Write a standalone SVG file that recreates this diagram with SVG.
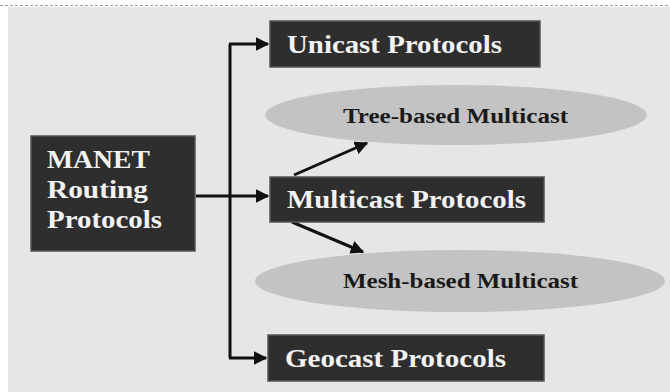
<svg xmlns="http://www.w3.org/2000/svg" width="670" height="392" viewBox="0 0 670 392">
<style>
.box{fill:#2e2e2e;stroke:#555;stroke-width:1.5}
.ell{fill:#c3c3c3}
.wt{font-family:"Liberation Serif","Times New Roman",serif;font-weight:bold;fill:#f2f2f2;font-size:25px}
.bt{font-family:"Liberation Serif","Times New Roman",serif;font-weight:bold;fill:#1a1a1a;font-size:22px}
.ln{stroke:#111;stroke-width:3;fill:none}
</style>
<defs>
<marker id="ah" viewBox="0 0 10 10" refX="9" refY="5" markerWidth="4.5" markerHeight="4.5" orient="auto" markerUnits="strokeWidth">
<path d="M0,0 L10,5 L0,10 z" fill="#111"/>
</marker>
</defs>
<rect x="0" y="0" width="670" height="392" fill="#ffffff"/>
<rect x="8" y="7" width="662" height="385" fill="#e6e6e6"/>
<line x1="0" y1="5.5" x2="670" y2="5.5" stroke="#9a9aa8" stroke-width="1" stroke-dasharray="3,2"/>
<g id="connectors">
<line class="ln" x1="230" y1="44" x2="230" y2="358"/>
<line class="ln" x1="229" y1="44" x2="268" y2="44" marker-end="url(#ah)"/>
<line class="ln" x1="196" y1="196" x2="268" y2="196" marker-end="url(#ah)"/>
<line class="ln" x1="229" y1="358" x2="266" y2="358" marker-end="url(#ah)"/>
<line class="ln" x1="294" y1="175" x2="367" y2="143" marker-end="url(#ah)"/>
<line class="ln" x1="292" y1="222" x2="363" y2="252" marker-end="url(#ah)"/>
</g>
<g id="manet">
<rect class="box" x="31" y="136" width="164" height="115"/>
<text class="wt" x="47" y="168" font-size="26" textLength="103" lengthAdjust="spacingAndGlyphs">MANET</text>
<text class="wt" x="47" y="198" font-size="26" textLength="101" lengthAdjust="spacingAndGlyphs">Routing</text>
<text class="wt" x="47" y="228" font-size="26" textLength="115" lengthAdjust="spacingAndGlyphs">Protocols</text>
</g>
<g id="unicast">
<rect class="box" x="270" y="21" width="270" height="46"/>
<text class="wt" x="287" y="53" textLength="215" lengthAdjust="spacingAndGlyphs">Unicast Protocols</text>
</g>
<g id="tree">
<ellipse class="ell" cx="456" cy="115" rx="191" ry="30"/>
<text class="bt" x="343" y="123" textLength="225" lengthAdjust="spacingAndGlyphs">Tree-based Multicast</text>
</g>
<g id="multicast">
<rect class="box" x="270" y="177" width="274" height="45"/>
<text class="wt" x="287" y="208" textLength="239" lengthAdjust="spacingAndGlyphs">Multicast Protocols</text>
</g>
<g id="mesh">
<ellipse class="ell" cx="460" cy="281" rx="205" ry="31"/>
<text class="bt" x="343" y="288" textLength="235" lengthAdjust="spacingAndGlyphs">Mesh-based Multicast</text>
</g>
<g id="geocast">
<rect class="box" x="268" y="335" width="276" height="46"/>
<text class="wt" x="285" y="367" textLength="221" lengthAdjust="spacingAndGlyphs">Geocast Protocols</text>
</g>
</svg>
